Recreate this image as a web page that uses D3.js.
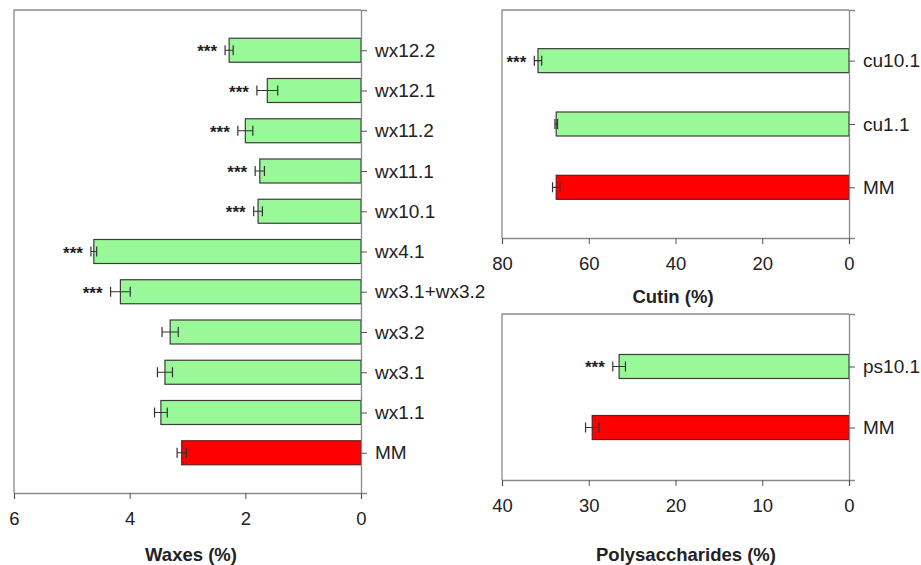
<!DOCTYPE html>
<html><head><meta charset="utf-8">
<script src="https://cdn.jsdelivr.net/npm/d3@7"></script>
<style>
body{margin:0;background:#fff;}
svg{display:block;font-family:Arial,"Liberation Sans",sans-serif;}
</style></head>
<body><svg id="c" width="921" height="565"></svg>
<script>
// ---- data ----
const waxCats = ["wx12.2","wx12.1","wx11.2","wx11.1","wx10.1","wx4.1","wx3.1+wx3.2","wx3.2","wx3.1","wx1.1","MM"];
const waxVals = [2.28,1.62,2.00,1.75,1.78,4.62,4.16,3.30,3.39,3.46,3.10];
const waxErr  = [0.07,0.18,0.13,0.08,0.075,0.05,0.17,0.14,0.13,0.11,0.08];
const waxSig  = [true,true,true,true,true,true,true,false,false,false,false];
const waxTicks = [6,4,2,0];

const cutCats = ["cu10.1","cu1.1","MM"];
const cutVals = [71.7,67.5,67.5];
const cutErr  = [0.85,0.3,0.85];
const cutSig  = [true,false,false];
const cutTicks = [80,60,40,20,0];

const polCats = ["ps10.1","MM"];
const polVals = [26.5,29.6];
const polErr  = [0.73,0.77];
const polSig  = [true,false];
const polTicks = [40,30,20,10,0];

const GREEN = "#99f999", RED = "#ff0000";
const svg = d3.select("#c");

function panel(o){
  const g = svg.append("g");
  const x = d3.scaleLinear().domain([o.max,0]).range([o.x0,o.x1]);
  const y = d3.scalePoint().domain(o.cats).range([o.y0,o.y1]).padding(o.pad);
  const bh = 24;
  // frame
  g.append("path").attr("d",`M${o.x0},${o.y1}V${o.y0}H${o.x1}`)
    .attr("fill","none").attr("stroke","#8a8a8a").attr("stroke-width",1.3);
  // bars
  o.cats.forEach((c,i)=>{
    const v=o.vals[i], e=o.err[i], cy=y(c);
    g.append("rect").attr("x",x(v)).attr("y",cy-bh/2).attr("width",x(0)-x(v)).attr("height",bh)
      .attr("fill",c==="MM"?RED:GREEN).attr("stroke",c==="MM"?"#6a1a1a":"#3c3c3c").attr("stroke-width",1.2);
    const xl=x(v+e), xr=x(v-e);
    g.append("path").attr("d",`M${xl},${cy}H${xr}M${xl},${cy-5}V${cy+5}M${xr},${cy-5}V${cy+5}`)
      .attr("stroke","#333").attr("stroke-width",1.2).attr("fill","none");
    if(o.sig[i]) g.append("text").attr("x",xl-8).attr("y",cy+7).attr("text-anchor","end")
      .attr("font-size",17).attr("font-weight","bold").attr("fill","#222").text("***");
  });
  // y axis (right)
  const ya = g.append("g").attr("transform",`translate(${o.x1},0)`)
    .call(d3.axisRight(y).tickSize(6).tickPadding(8));
  ya.select(".domain").attr("stroke","#8a8a8a").attr("stroke-width",1.3);
  ya.selectAll(".tick line").attr("stroke","#555");
  ya.selectAll("text").attr("font-size",19).attr("fill","#222").attr("font-family","Arial,'Liberation Sans',sans-serif");
  // x axis
  const xa = g.append("g").attr("transform",`translate(0,${o.y1})`)
    .call(d3.axisBottom(x).tickValues(o.ticks).tickFormat(d3.format("d")).tickSize(6).tickPadding(13));
  xa.select(".domain").attr("stroke","#8a8a8a").attr("stroke-width",1.3);
  xa.selectAll(".tick line").attr("stroke","#555");
  xa.selectAll("text").attr("font-size",18.5).attr("fill","#222").attr("font-family","Arial,'Liberation Sans',sans-serif");
  g.append("text").attr("x",o.tx).attr("y",o.ty).attr("text-anchor","middle")
    .attr("font-size",18.5).attr("font-weight","bold").attr("fill","#222").text(o.title);
}

panel({cats:waxCats,vals:waxVals,err:waxErr,sig:waxSig,ticks:waxTicks,max:6,
  x0:14,x1:361,y0:10,y1:493,pad:1,title:"Waxes (%)",tx:191,ty:561});
panel({cats:cutCats,vals:cutVals,err:cutErr,sig:cutSig,ticks:cutTicks,max:80,
  x0:502,x1:849,y0:10,y1:238,pad:0.8,title:"Cutin (%)",tx:673,ty:303});
panel({cats:polCats,vals:polVals,err:polErr,sig:polSig,ticks:polTicks,max:40,
  x0:502,x1:849,y0:314,y1:480,pad:0.86,title:"Polysaccharides (%)",tx:686,ty:561});
</script></body></html>
